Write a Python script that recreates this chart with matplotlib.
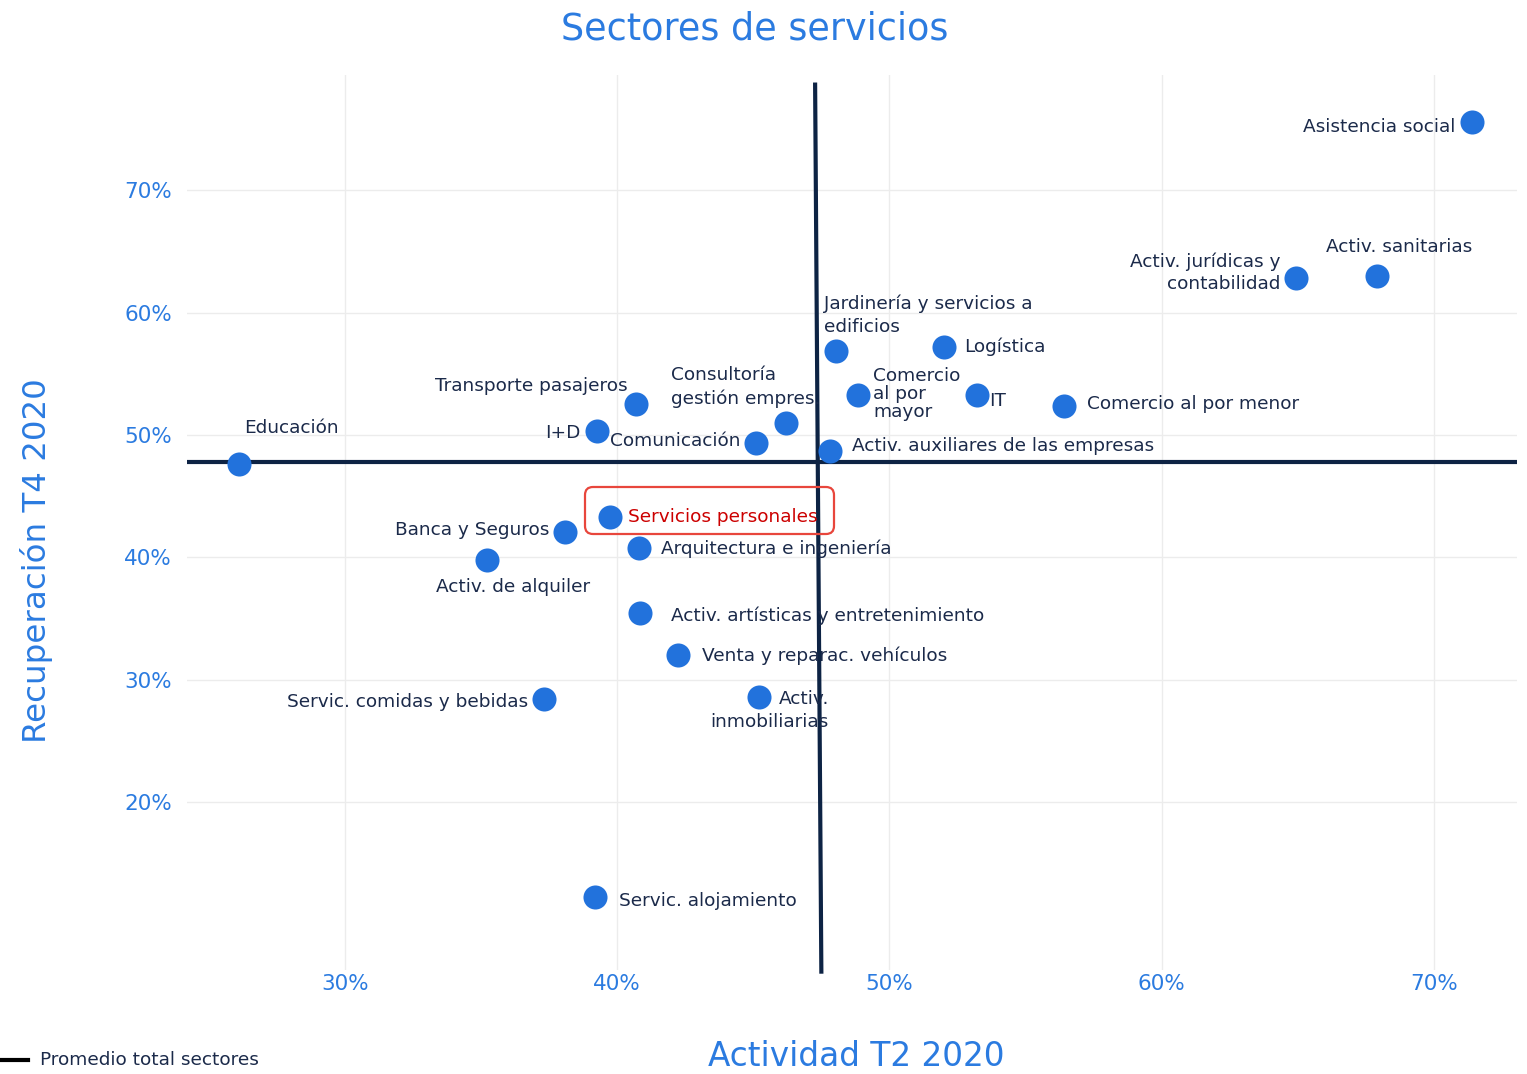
import matplotlib
matplotlib.use('Agg')
import matplotlib.pyplot as plt
from matplotlib.patches import FancyBboxPatch
from matplotlib.lines import Line2D

# data (percent)
sectors = [
    'Asistencia social', 'Activ. sanitarias', 'Activ. jurídicas y\ncontabilidad',
    'Jardinería y servicios a\nedificios', 'Logística', 'Comercio\nal por\nmayor', 'IT',
    'Comercio al por menor', 'Consultoría\ngestión empres.', 'Transporte pasajeros',
    'I+D', 'Comunicación', 'Activ. auxiliares de las empresas', 'Educación',
    'Servicios personales', 'Banca y Seguros', 'Arquitectura e ingeniería',
    'Activ. de alquiler', 'Activ. artísticas y entretenimiento',
    'Venta y reparac. vehículos', 'Servic. comidas y bebidas',
    'Activ.\ninmobiliarias', 'Servic. alojamiento',
]
actividad_t2 = [71.4, 67.9, 64.95, 48.05, 52.0, 48.85, 53.2, 56.4, 46.2, 40.7,
                39.25, 45.1, 47.8, 26.1, 39.75, 38.1, 40.8, 35.2, 40.85, 42.25,
                37.3, 45.2, 39.2]
recuperacion_t4 = [75.55, 63.0, 62.85, 56.9, 57.2, 53.3, 53.3, 52.4, 51.0, 52.5,
                   50.3, 49.35, 48.7, 47.6, 43.3, 42.1, 40.8, 39.8, 35.5, 32.0,
                   28.4, 28.6, 12.3]
avg_recuperacion = 47.8
avg_actividad_line = ([47.27, 47.5], [78.8, 6.0])
highlight = 'Servicios personales'

x_ticks = [30, 40, 50, 60, 70]
y_ticks = [20, 30, 40, 50, 60, 70]

# label layout: offset in pixels (dx right, dy down), horizontal alignment
label_pos = {
    'Asistencia social': (-17, 5, 'right'),
    'Activ. sanitarias': (22, -29, 'center'),
    'Activ. jurídicas y\ncontabilidad': (-16, -5, 'right'),
    'Jardinería y servicios a\nedificios': (-12, -35, 'left'),
    'Logística': (20, 0, 'left'),
    'Comercio\nal por\nmayor': (15, -1, 'left'),
    'IT': (13, 6, 'left'),
    'Comercio al por menor': (23, -2, 'left'),
    'Consultoría\ngestión empres.': (-115, -36, 'left'),
    'Transporte pasajeros': (-9, -18, 'right'),
    'I+D': (-16, 2, 'right'),
    'Comunicación': (-16, -2, 'right'),
    'Activ. auxiliares de las empresas': (22, -5, 'left'),
    'Educación': (5, -36, 'left'),
    'Servicios personales': (18, 0, 'left'),
    'Banca y Seguros': (-16, -2, 'right'),
    'Arquitectura e ingeniería': (22, 1, 'left'),
    'Activ. de alquiler': (27, 27, 'center'),
    'Activ. artísticas y entretenimiento': (31, 3, 'left'),
    'Venta y reparac. vehículos': (24, 0, 'left'),
    'Servic. comidas y bebidas': (-16, 3, 'right'),
    'Activ.\ninmobiliarias': (70, 13, 'right'),
    'Servic. alojamiento': (24, 4, 'left'),
}

DOT = '#2272dc'
TEXT = '#1b2a4a'
BLUE = '#2b7be0'
NAVY = '#0d2344'

plt.rcParams['font.family'] = ['DejaVu Sans']
fig = plt.figure(figsize=(15.27, 10.74), dpi=100)
ax = fig.add_axes([0.1225, 0.0968, 0.8709, 0.8332])
ax.set_xlim(24.2, 73.05)
ax.set_ylim(6.3, 79.4)
for s in ax.spines.values():
    s.set_visible(False)
ax.set_xticks(x_ticks)
ax.set_yticks(y_ticks)
ax.set_xticklabels([f'{t}%' for t in x_ticks])
ax.set_yticklabels([f'{t}%' for t in y_ticks])
ax.tick_params(length=0, labelsize=15.5, labelcolor=BLUE, pad=3)
ax.tick_params(axis='y', pad=11)
ax.grid(True, color='#ececec', linewidth=1)
ax.set_axisbelow(True)

ax.axhline(avg_recuperacion, color=NAVY, linewidth=3, zorder=2)
ax.plot(avg_actividad_line[0], avg_actividad_line[1], color=NAVY, linewidth=3,
        zorder=2, clip_on=False, solid_capstyle='butt')

ax.scatter(actividad_t2, recuperacion_t4, s=300, color=DOT, zorder=3, linewidths=0)

for name, x, y in zip(sectors, actividad_t2, recuperacion_t4):
    dx, dy, ha = label_pos[name]
    color = '#cc0000' if name == highlight else TEXT
    ls = 1.0 if name.count('\n') > 1 else 1.35
    ax.annotate(name, (x, y), xytext=(dx, -dy), textcoords='offset pixels',
                ha=ha, va='center', fontsize=13.3, color=color, zorder=4,
                multialignment=ha, linespacing=ls)

# highlight box around Servicios personales
box = FancyBboxPatch((585, 1074 - 534), 249, 47, transform=None,
                     boxstyle='round,pad=0,rounding_size=8', fill=False,
                     edgecolor='#e8463c', linewidth=1.6, zorder=5)
fig.patches.append(box)

fig.text(0.494, 0.973, 'Sectores de servicios', ha='center', va='center',
         fontsize=26.4, color=BLUE)
fig.text(0.561, 0.016, 'Actividad T2 2020', ha='center', va='center',
         fontsize=23.6, color=BLUE)
fig.text(0.024, 0.478, 'Recuperación T4 2020', ha='center', va='center',
         fontsize=23.4, color=BLUE, rotation=90)

fig.lines.append(Line2D([0, 28 / 1527], [1 - 1060 / 1074] * 2,
                        transform=fig.transFigure, color='black', linewidth=3))
fig.text(40 / 1527, 1 - 1060 / 1074, 'Promedio total sectores', ha='left',
         va='center', fontsize=13.3, color=TEXT)

fig.savefig('out.png', dpi=100)
